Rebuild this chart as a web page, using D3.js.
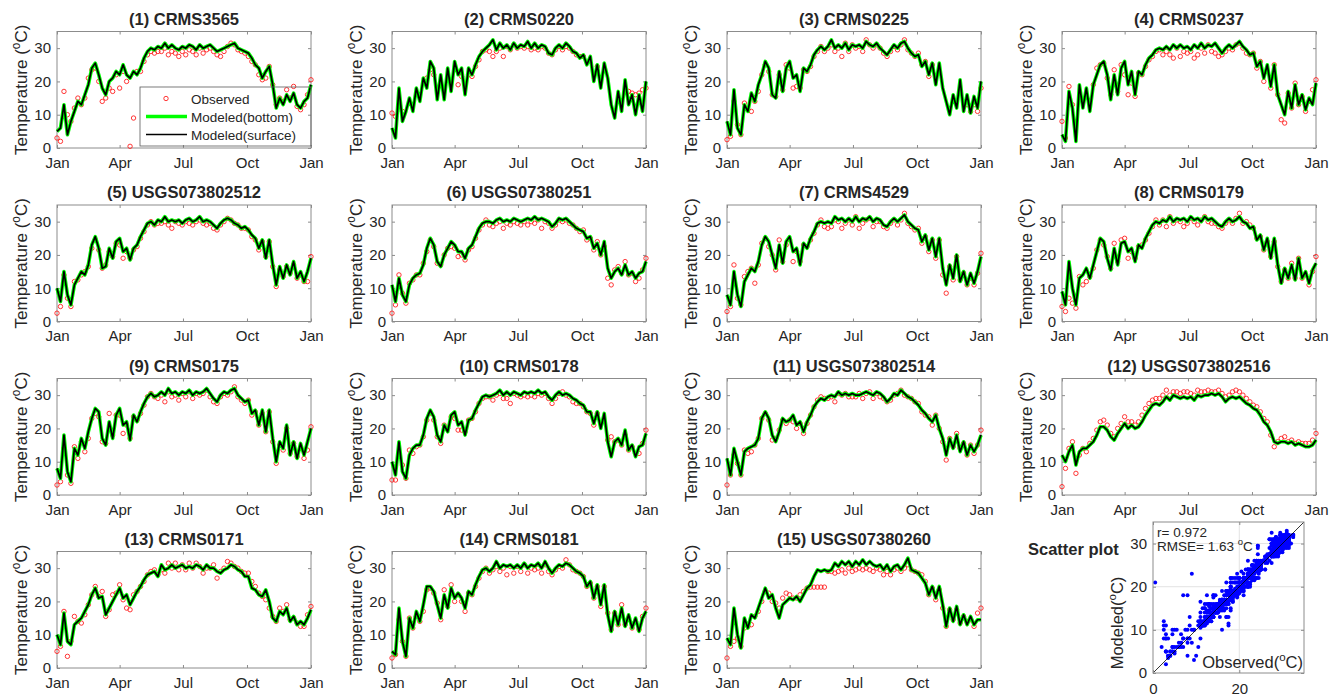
<!DOCTYPE html>
<html>
<head>
<meta charset="utf-8">
<script src="https://cdn.jsdelivr.net/npm/d3@7"></script>
<style>
  body { margin: 0; background: #fff; }
  svg { display: block; }
  text { font-family: "Liberation Sans", Arial, Helvetica, sans-serif; fill: #262626; }
</style>
</head>
<body>
<svg id="fig" width="1336" height="694"></svg>
<script>
// ---- Sampling grid: day of year, every 5 days ----
const dayOfYear = d3.range(0, 366, 5);

const stationNames = [
  "(1) CRMS3565", "(2) CRMS0220", "(3) CRMS0225", "(4) CRMS0237",
  "(5) USGS073802512", "(6) USGS07380251", "(7) CRMS4529", "(8) CRMS0179",
  "(9) CRMS0175", "(10) CRMS0178", "(11) USGS073802514", "(12) USGS073802516",
  "(13) CRMS0171", "(14) CRMS0181", "(15) USGS07380260"
];

const monthTicks = ["Jan", "Apr", "Jul", "Oct", "Jan"];
const tempTicks = [0, 10, 20, 30];
const scatterXTicks = [0, 20];
const scatterYTicks = [0, 10, 20, 30];
const scatterStats = { r: "0.972", rmse: "1.63" };

// ---- Modeled water temperature (°C); bottom and surface layers coincide at this scale ----
const mod01 = [5,6,13,4,8,11,14,13,16,19, 24,25.5,22,18,16,20,21,23,22,25, 22,21,23,22,24,27,29,30,29.5,30.5,
  30,31.5,30,31,30,29.5,30.5,30,31,30.5, 29.5,31,30,30.5,31,30,29,29.5,30,30.5, 31,31.5,30,29.5,29,28.5,27,25,24,21,
  23,24.5,19,12,15,13,16,14,16.5,13, 12,14,15,19];
const mod02 = [6,3,18,8,11,15,11,18,14,21, 18,26,24,14.5,22,14.5,24,17,26,22, 24,16,24,22,25,27.5,29,30,31,32.5,
  29.5,31.5,30,31,29.5,31.5,30,31,30.5,32, 30,31.5,30,31,30.5,28.5,28,30,31,30, 31.5,30.5,29,28.5,27,28,25,27.5,20,25,
  18,25.5,21,13,9,17,11,20.5,13,16, 10,16,11,20];
const mod03 = [8,4,17.5,6,4,13,11,16.5,14,19, 22,26,24,16,15,23,17,24,26,21, 22,17,24,23,25,28,29.5,30.5,29.5,30.5,
  32.5,30,31,30,31.5,29.5,31,30.5,31,30, 32,31,30.5,31.5,30,29,28,29.5,31,30, 31.5,32,30,28.5,27.5,28,24.5,26,22,25.5,
  19,25.5,18,14,10,16,12,20.5,11,16, 10.5,15.5,12,20];
const mod04 = [4,2,17,12,2,19,12,18,11,19, 22,25,26,22,14.5,22,16,24,26,19, 23,16,23,22,25,27,28,29.5,30,29.5,
  30.5,29.5,31,30,31,30,30.5,29.5,31,30, 31.5,30,31,30.5,31.5,30,28.5,30,31,30, 31,32,30.5,29.5,28,28.5,24.5,26,21,25,
  18.5,25,16,13,10,17,12,19,13,16, 11.5,15,13,19.5];
const mod05 = [10,6,15,8,5,11,13,15,14,17, 23,25.5,22,16,16.5,22,19,24,25,21, 22,18.5,22,23,25.5,27.5,29.5,30,29,30.5,
  30,31.5,30,30.5,30,30.5,29.5,30.5,31,30, 30.5,31.5,30,30.5,30,29,28,29.5,30.5,31, 30.5,29.5,29,28,28.5,27.5,26,25,22,24.5,
  19,24.5,17,11,16.5,13,17,14,18,13, 15,12,15,19];
const mod06 = [11,6,13,8,6,11,13,14,14.5,17, 22,25,23,18,16.5,20,22,24,23,21, 21,19,22,23,25.5,28,29.5,30,30,29.5,
  30.5,31,30,30.5,30,31,30.5,30,30.5,31, 30.5,31.5,30.5,31,30.5,30,28.5,29.5,31,30.5, 31,30,29,28,27.5,27,25,25.5,22,23.5,
  20,24,16,13,15,16,14,17,14,15, 13,14.5,15,18];
const mod07 = [8,5,15,8,4.5,12,14,16,15,18, 23,25.5,24,20,16,23,17.5,24,25.5,21, 22,17,23.5,22,25,27,29.5,30,29.5,30,
  29.5,31.5,30.5,31,30,31,30,31.5,30,31, 30.5,31.5,30,31,30.5,29,28.5,30,31,30, 31,32,30,29,28,27.5,24,26,21.5,25,
  19.5,25,16,11,17,13,20,12,15,11, 14.5,11.5,15,19.5];
const mod08 = [9,5,18,10,5,13,14,16,13,17, 21,25,24,19,15.5,22,17,23.5,24,21, 22,18,23,22,25,27,29,30,29.5,30.5,
  30,31.5,30,31,30.5,31,30,31.5,30.5,31, 30,31.5,30.5,31,30,29,28.5,30,31,30, 30.5,31.5,30,29.5,28,28.5,24.5,26,21.5,25,
  19,25,17,11.5,16,13,17,12.5,19,13, 15,11.5,15.5,17.5];
const mod09 = [8,5,18,7,4,14,12,17,14,19, 23,26,25,17,15,22,17,24,26,21, 22,16.5,24,22,25,27.5,29.5,30.5,29.5,30,
  31,30,32,30.5,31,30,31,30.5,31.5,30, 31,30.5,31,32,30.5,29,28,30,31,30.5, 31.5,32,30,29,28,28.5,24.5,25.5,21,25.5,
  19,25.5,17,10,16,14,21,12,16,11, 15.5,12,16,20];
const mod10 = [10,6,16,7,5,12,14,15,15,18, 23,25.5,23.5,18,16,21,19,24,25,21, 22,18,22.5,23,25.5,27.5,29.5,30,29.5,30,
  30.5,31.5,30,31,30,31,30.5,30,31,30.5, 31,30.5,31.5,30.5,31,29.5,28.5,30,31,30, 30.5,30,29,28.5,27.5,27,25,25,21.5,25,
  20,24.5,16,11.5,16,17,15,19.5,13.5,15, 11.5,14.5,15,18.5];
const mod11 = [11,6,14,10,6,13,14,14.5,15,17, 23,25,23,18,16,19,23,22,22.5,24, 21,22,19,22,24,26.5,28,29,28.5,29.5,
  30,29.5,31,30,30.5,30,30.5,30,30,30.5, 31,30.5,30,31,30.5,29.5,28,29,30.5,30, 31.5,30.5,29.5,29,28,27,25.5,24.5,23,22,
  24,20,17,12,17,14,18,13,16,12, 15,13,15,18];
const mod12 = [12,10,13,15,9,13,14,14,15,16, 18,20.5,20.5,19.5,17.5,16.5,18.5,20,21.5,20, 21,20,20.5,22,24,25.5,27,27.5,27,28,
  29.5,28.5,30,29.5,29,29.5,29,29.5,28.5,30, 29.5,30,30,30.5,30,30.5,29.5,28,29,29.5, 29,29.5,28.5,27.5,27,26,25.5,24,22,21,
  19,16,15.5,16,16,15.5,16,15,15.5,15, 14.5,14.5,15,16.5];
const mod13 = [10,7,16.5,8,7,13,14,15,17,19, 22,24,21,21.5,16,18,20,22,24,21, 22,19,21,23,24.5,26.5,28,28.5,29,27.5,
  31,29.5,30,31,30,30.5,31,30,30.5,30, 31,30.5,29.5,31,30,30,29,28.5,29.5,30, 31,30.5,29.5,29,27.5,27.5,24,23.5,22,21.5,
  23.5,20,15,14,17,16,18,14,15.5,13, 14,13,15,17.5];
const mod14 = [5,4,18,8,3.5,15,12,17,14,19, 24.5,24.5,23,19,15,22,18,24,21,22.5, 21,18,23,22,25,27.5,29.5,30,29,30,
  32,30,31,30.5,31,30,31,30,31.5,30, 31,30.5,31.5,30,32,30,28.5,30,31,30.5, 31.5,31,30,29,28.5,27.5,24.5,26,21,25,
  19,25,16,11,17,13,18,12.5,16,12, 15,11,15,17];
const mod15 = [9,7,18,10,6,15,12,16,15,18, 21,24,21,22,18,15,19,20,21,20.5, 21.5,20,22,24,25,27.5,29.5,29,29.5,29,
  29.5,31.5,30.5,32,31,32,30.5,32,31,32.5, 31,32,31,30.5,31,29.5,31,29,30.5,31, 29.5,31,33,29.5,29,28.5,27,25.5,22,24.5,
  21,24.5,19,12.5,18,14,18.5,13,16,13, 15.5,13,14.5,14.5];

// ---- Observed water temperature (°C); null where no record ----
const obs01 = [3,2,17,10,8,12,15,13,15,21, 23.5,24,20,14,15,18,17,22,18,23, 20,0.5,9,23,23,26,28,29,28.5,29,
  29,30,28,29,28.5,27.5,29,28,29.5,29, 28,30,28.5,29.5,30,29,28,27.5,29,30.5, 31.5,31,29.5,29,28.5,27.5,26,25,22,20.5,
  21,24.5,19,13,15,14,17.5,15,18.5,12.5, 11.5,13,16,20.5];
const obs02 = [10.5,9.5,12.5,11,null,null,null,null,null,null, 21,23.5,22,null,null,null,null,null,null,19,
  21.5,null,22,21.5,24.5,26.5,29,29.5,29,27.5, 29,30,27.5,30.5,29.5,31,30,30.5,30,30.5,
  29.5,30,29.5,30.5,30,28.5,28,29.5,30.5,29.5, 30.5,30,29,28,27.5,27.5,null,null,null,24.5,
  null,null,null,null,null,null,null,null,17,16.5, 16,16.5,17.5,18];
const obs03 = [2.5,3.5,14,7,4,13.5,11.5,11,14,17, 22,25,23,16,15.5,22,17.5,25,24,18, 18.5,18,23.5,23,24.5,27.5,29,30.5,29,30,
  31,29,30,27.5,31.5,29,31,30,30.5,29, 32.5,31,30,31,30,28.5,27.5,29,30.5,29.5, 31,32.5,29.5,28.5,27.5,28.5,25,26,21.5,25,
  null,null,null,null,null,null,null,null,null,13, 11,13,11,18];
const obs04 = [8,3,18.5,13,null,null,null,null,null,19, 24,25,25.5,21,16,23.5,17,25,22,16, 19.5,15.5,22.5,22,24.5,26.5,27.5,29,29.5,28,
  29,28,27,30,27.5,29,28.5,29,27,28, 30,28.5,31,29,28.5,27.5,28,29,30,29.5, 31,31.5,30,28.5,28,28.5,24,26,20,23,
  18,25,16,8.5,7.5,16.5,12,19.5,13,15.5, 11,14,17.5,20.5];
const obs05 = [2.5,4.5,14,7,4.5,12,12.5,14,15,16.5, 22,24.5,21.5,16,17,21,19.5,23.5,23,19, 21,19,21.5,22.5,25,27,29,30,29,29.5,
  29.5,30,29,28,30,29.5,29,30,29.5,29, 30,30.5,29.5,29,29.5,28,27.5,29,30,31, 30.5,29.5,29,28,28,27.5,25.5,24.5,21.5,24,
  19.5,24,16.5,10.5,15.5,13.5,16.5,14.5,17,13, 14,12,12,19.5];
const obs06 = [2.5,5,14,8.5,5.5,11.5,12.5,14,14,17.5, 21,24.5,22.5,17.5,17,20,22,22.5,22,19.5, 20,18.5,21.5,22.5,25,27.5,29,30.5,29,28.5,
  29.5,30,28,29.5,29,30,29.5,29,30,29, 30,29.5,30.5,28,30,29.5,28,29,30.5,30, 30.5,29.5,29,28,27,27.5,24.5,25,21.5,24,
  20,22.5,13,11,15.5,16.5,14.5,18,14,14.5, 12,13,15.5,19];
const obs07 = [3,4.5,17,7,5,13.5,15,16,11.5,17, 23.5,25,22.5,20,15.5,24.5,18,23,24.5,18, 21,18,23,22.5,24.5,26.5,29,30.5,28.5,28,
  28.5,30.5,30,28,29.5,30.5,29,31.5,28,29.5, 30.5,31,28.5,30,30,28.5,28,29.5,30.5,29, 30.5,32.5,29.5,28.5,27.5,28,23.5,25.5,21,24.5,
  19,24.5,14,8.5,16.5,12.5,19.5,12.5,14.5,11, 13,11,14.5,20.5];
const obs08 = [4.5,3,7,5.5,4,13.5,11,12,13.5,16, 21.5,24.5,23,19.5,16,23.5,18,24.5,25,19, 21,19,22.5,23,24.5,26.5,28.5,30.5,29,30.5,
  28.5,31.5,29.5,30.5,30,28.5,29.5,31,30,29, 30.5,31.5,30,29.5,29.5,28.5,28,29.5,30.5,29.5, 31,32.5,29.5,30,29,28,25,25.5,21.5,24,
  19.5,24,16.5,12,15.5,13,17.5,13,19,13, 14,11,15,19.5];
const obs09 = [3,4,14,6,3.5,14.5,11,16,13,17, 23,24.5,23.5,16,15.5,24.5,18,24,24,18.5, 21,17,23.5,22.5,24.5,27,29.5,30.5,29.5,29,
  30,28,31,29.5,30,28.5,30.5,29.5,31,29, 30.5,30,30.5,31.5,29.5,28,27.5,29.5,30.5,30, 31,32.5,29.5,28.5,27.5,28.5,24,25,21,24.5,
  19,25,16,9.5,15,13.5,20,12.5,15.5,11.5, 14,11,13.5,20.5];
const obs10 = [4.5,4.5,12.5,9,5,13.5,12.5,14.5,15,17.5, 22.5,24.5,22.5,17.5,15.5,21,20,23.5,23,19.5, 19.5,19,22.5,23,25,27.5,29,29.5,29.5,28.5,
  30,30.5,29,29,27.5,30.5,30,29.5,30,29.5, 30,29.5,30.5,30,30.5,29,27.5,29,30.5,31, 30,29.5,28,27.5,27.5,26.5,25,24.5,21,24.5,
  null,null,16.5,17.5,16,16.5,15,18,13.5,14.5, 12.5,12.5,15.5,19.5];
const obs11 = [3,6,12,9.5,6,13.5,12.5,13,15,17, 23,24.5,22.5,16.5,17,19.5,22.5,21.5,22.5,22, 20,21.5,18.5,21.5,24,26.5,28.5,29.5,29,29,
  29.5,28,30.5,30,30.5,29.5,29.5,29.5,30.5,29, 30.5,31,29,30.5,29.5,29,28,28.5,30,30.5, 31.5,30,29.5,29,28,27.5,25,24,23.5,21,
  24,20,16,10.5,17,14.5,18.5,14,15.5,12, 15,12.5,15,19.5];
const obs12 = [2.5,8,14,16,6.5,12,14,13,15.5,17, 19.5,22,22.5,21,18.5,17.5,20,21.5,23.5,22, 22,21,22,24,26,27.5,28.5,29,29,30,
  31.5,30,31,31,30.5,31,31,30.5,30,31.5, 31,31,31.5,31,31,31.5,30.5,29.5,30,31, 31.5,31,30,29,28,27,26.5,25,23,22,
  18,14.5,16,17,17.5,16,16.5,15.5,16,15.5, 15.5,15.5,16.5,18.5];
const obs13 = [5,6.5,17,3.5,8,15.5,14,13.5,16,19, 22,24.5,21.5,23,15.5,17.5,22,22.5,25,20.5, 18,17.5,22,23,24.5,26,28,29,29.5,28,
  29.5,28.5,31.5,30,31.5,29.5,31,29.5,31.5,30, 31.5,30.5,28.5,30,30,31,27,29,30,32, 31.5,30.5,30,29,28.5,28.5,26,24.5,22.5,21.5,
  20.5,18,15.5,14,18,17,19,14.5,15,13.5, 12.5,12.5,16,18.5];
const obs14 = [3,4,14.5,8,3.5,15,12,15.5,14,17, 23.5,24,22.5,19.5,14.5,23.5,18.5,25,20,22, 20,17,22.5,22,24.5,27,29,30,28.5,29.5,
  30.5,29,30,28,30.5,28.5,30.5,29,31,28.5, 30,29.5,30,28.5,31,29,28,29.5,30.5,30, 32.5,31,29.5,29,28.5,27.5,24.5,25.5,21,24.5,
  18.5,24.5,16.5,11.5,16.5,13,19,13,15,12, 14,11.5,15.5,18];
const obs15 = [3,6.5,8,9,6.5,12,12.5,13,15.5,17, 20,23,22.5,20,19.5,18,21,22.5,22,21, 21,22,23,24,24.3,24.3,24.3,24.3,24.3,29,
  29,28.5,29,29.5,28.5,30,29,29.5,30,29.5, 30,29.5,29,30,29.5,28,29,28,29.5,30, 29,30,31,29.5,29,28.5,28,26,22,24,
  20.5,23.5,18,12.5,17.5,14.5,17.5,13.5,15.5,14, 14.5,12.5,16.5,18];

const modeledSeries = [mod01, mod02, mod03, mod04, mod05, mod06, mod07, mod08,
                       mod09, mod10, mod11, mod12, mod13, mod14, mod15];
const observedSeries = [obs01, obs02, obs03, obs04, obs05, obs06, obs07, obs08,
                        obs09, obs10, obs11, obs12, obs13, obs14, obs15];

// ---- Layout ----
const colLeft = [57, 392, 727, 1062];
const rowZero = [148, 321.5, 495, 668];
const plotW = 254, plotH = 116.5;
const boxColor = "#8c8c8c";
const obsColor = "#ff2020";
const bottomColor = "#00ff00";

const fig = d3.select("#fig");
const yearStart = new Date(Date.UTC(2015, 0, 1));
const yearEnd = new Date(Date.UTC(2016, 0, 1));
const dateOf = d => new Date(Date.UTC(2015, 0, 1 + d));
const quarterStarts = d3.utcMonth.every(3).range(yearStart, d3.utcDay.offset(yearEnd, 1));

function styleAxis(sel, fontSize) {
  sel.select(".domain").remove();
  sel.selectAll(".tick line").attr("stroke", boxColor);
  sel.selectAll(".tick text")
    .attr("fill", "#262626")
    .style("font-family", '"Liberation Sans", Arial, sans-serif')
    .style("font-size", fontSize + "px");
}

function supLabel(sel, before, after, fontSize) {
  sel.append("tspan").text(before);
  sel.append("tspan").text("o").style("font-size", (fontSize * 0.7) + "px").attr("dy", -fontSize * 0.42);
  sel.append("tspan").text(after).attr("dy", fontSize * 0.42);
}

stationNames.forEach((name, k) => {
  const col = k % 4, row = Math.floor(k / 4);
  const left = colLeft[col], bottom = rowZero[row], top = bottom - plotH;
  const x = d3.scaleUtc().domain([yearStart, yearEnd]).range([left, left + plotW]);
  const y = d3.scaleLinear().domain([0, 35]).range([bottom, top]);
  const g = fig.append("g").attr("class", "panel");

  g.append("rect").attr("x", left).attr("y", top).attr("width", plotW).attr("height", plotH)
    .attr("fill", "#fff").attr("stroke", boxColor).attr("stroke-width", 1);

  // axes with inward ticks, mirrored on top and right
  const xAxis = d3.axisBottom(x).tickValues(quarterStarts)
    .tickFormat((d, i) => monthTicks[i]).tickSizeInner(-3).tickSizeOuter(0).tickPadding(9);
  g.append("g").attr("transform", `translate(0,${bottom})`).call(xAxis).call(s => styleAxis(s, 15));
  g.append("g").attr("transform", `translate(0,${top})`)
    .call(d3.axisTop(x).tickValues(quarterStarts).tickFormat("").tickSizeInner(-3).tickSizeOuter(0))
    .call(s => styleAxis(s, 15));
  const yAxis = d3.axisLeft(y).tickValues(tempTicks).tickSizeInner(-3).tickSizeOuter(0).tickPadding(6);
  g.append("g").attr("transform", `translate(${left},0)`).call(yAxis).call(s => styleAxis(s, 15));
  g.append("g").attr("transform", `translate(${left + plotW},0)`)
    .call(d3.axisRight(y).tickValues(tempTicks).tickFormat("").tickSizeInner(-3).tickSizeOuter(0))
    .call(s => styleAxis(s, 15));

  const mod = modeledSeries[k];
  const obs = observedSeries[k];

  // observed points
  g.append("g").selectAll("circle")
    .data(obs.map((v, i) => ({ d: dayOfYear[i], v })).filter(p => p.v != null))
    .join("circle")
    .attr("cx", p => x(dateOf(p.d))).attr("cy", p => y(p.v)).attr("r", 2.2)
    .attr("fill", "none").attr("stroke", obsColor).attr("stroke-width", 0.9);

  const line = d3.line().x((v, i) => x(dateOf(dayOfYear[i]))).y(v => y(v));
  // bottom layer (wide green) under the surface layer (thin black)
  g.append("path").attr("d", line(mod)).attr("fill", "none")
    .attr("stroke", bottomColor).attr("stroke-width", 3.6).attr("stroke-linejoin", "round");
  g.append("path").attr("d", line(mod)).attr("fill", "none")
    .attr("stroke", "#000").attr("stroke-width", 1.7).attr("stroke-linejoin", "round");

  g.append("text").attr("x", left + plotW / 2).attr("y", top - 7)
    .attr("text-anchor", "middle").style("font-size", "16.5px").style("font-weight", "bold").text(name);

  const yl = g.append("text")
    .attr("transform", `translate(${left - 30},${(top + bottom) / 2}) rotate(-90)`)
    .attr("text-anchor", "middle").style("font-size", "17px");
  supLabel(yl, "Temperature (", "C)", 17);
});

// ---- Legend (panel 1), transparent so the series show through ----
const lg = fig.append("g");
lg.append("rect").attr("x", 140).attr("y", 87).attr("width", 171).attr("height", 59)
  .attr("fill", "none").attr("stroke", "#5a5a5a").attr("stroke-width", 0.8);
lg.append("circle").attr("cx", 166).attr("cy", 98.5).attr("r", 2.2)
  .attr("fill", "none").attr("stroke", obsColor).attr("stroke-width", 0.9);
lg.append("line").attr("x1", 146).attr("x2", 187).attr("y1", 116.5).attr("y2", 116.5)
  .attr("stroke", bottomColor).attr("stroke-width", 3.6);
lg.append("line").attr("x1", 146).attr("x2", 187).attr("y1", 134.5).attr("y2", 134.5)
  .attr("stroke", "#000").attr("stroke-width", 1.7);
[["Observed", 103.5], ["Modeled(bottom)", 121.5], ["Modeled(surface)", 139.5]].forEach(([t, yy]) => {
  lg.append("text").attr("x", 191).attr("y", yy).style("font-size", "13.5px").text(t);
});

// ---- Scatter of observed vs modeled, pooled over all stations ----
const scatterPoints = [];
observedSeries.forEach((obs, k) => {
  obs.forEach((v, i) => { if (v != null) scatterPoints.push([v, modeledSeries[k][i]]); });
});

const sL = 1153, sW = 151, sB = 673, sT = 522;
const sx = d3.scaleLinear().domain([0, 35]).range([sL, sL + sW]);
const sy = d3.scaleLinear().domain([0, 35]).range([sB, sT]);
const sg = fig.append("g");
sg.append("rect").attr("x", sL).attr("y", sT).attr("width", sW).attr("height", sB - sT).attr("fill", "#fff");
// grid
sg.append("g").selectAll("line").data(scatterXTicks.filter(v => v > 0)).join("line")
  .attr("x1", d => sx(d)).attr("x2", d => sx(d)).attr("y1", sT).attr("y2", sB)
  .attr("stroke", "#e3e3e3").attr("stroke-width", 1);
sg.append("g").selectAll("line").data(scatterYTicks.filter(v => v > 0)).join("line")
  .attr("x1", sL).attr("x2", sL + sW).attr("y1", d => sy(d)).attr("y2", d => sy(d))
  .attr("stroke", "#e3e3e3").attr("stroke-width", 1);

sg.append("defs").append("clipPath").attr("id", "sclip")
  .append("rect").attr("x", sL).attr("y", sT).attr("width", sW).attr("height", sB - sT);
sg.append("g").attr("clip-path", "url(#sclip)").selectAll("circle").data(scatterPoints).join("circle")
  .attr("cx", d => sx(d[0])).attr("cy", d => sy(d[1])).attr("r", 2).attr("fill", "#0000ff");
// 1:1 reference line
sg.append("line").attr("x1", sx(0)).attr("y1", sy(0)).attr("x2", sx(35)).attr("y2", sy(35))
  .attr("stroke", "#000").attr("stroke-width", 0.8);

sg.append("rect").attr("x", sL).attr("y", sT).attr("width", sW).attr("height", sB - sT)
  .attr("fill", "none").attr("stroke", boxColor).attr("stroke-width", 1);
sg.append("g").attr("transform", `translate(0,${sB})`)
  .call(d3.axisBottom(sx).tickValues(scatterXTicks).tickSizeInner(-3).tickSizeOuter(0).tickPadding(10))
  .call(s => styleAxis(s, 15));
sg.append("g").attr("transform", `translate(${sL},0)`)
  .call(d3.axisLeft(sy).tickValues(scatterYTicks).tickSizeInner(-3).tickSizeOuter(0).tickPadding(6))
  .call(s => styleAxis(s, 15));
sg.append("g").attr("transform", `translate(0,${sT})`)
  .call(d3.axisTop(sx).tickValues(scatterXTicks).tickFormat("").tickSizeInner(-3).tickSizeOuter(0))
  .call(s => styleAxis(s, 15));
sg.append("g").attr("transform", `translate(${sL + sW},0)`)
  .call(d3.axisRight(sy).tickValues(scatterYTicks).tickFormat("").tickSizeInner(-3).tickSizeOuter(0))
  .call(s => styleAxis(s, 15));

sg.append("text").attr("x", 1157).attr("y", 537).style("font-size", "13.5px").text("r= " + scatterStats.r);
const rm = sg.append("text").attr("x", 1157).attr("y", 551).style("font-size", "13.5px");
supLabel(rm, "RMSE= " + scatterStats.rmse + " ", "C", 13.5);

const ox = sg.append("text").attr("x", 1303).attr("y", 668).attr("text-anchor", "end").style("font-size", "16.5px");
supLabel(ox, "Observed(", "C)", 16.5);
const my = sg.append("text").attr("transform", `translate(1123,623) rotate(-90)`)
  .attr("text-anchor", "middle").style("font-size", "16.5px");
supLabel(my, "Modeled(", "C)", 16.5);

sg.append("text").attr("x", 1028).attr("y", 555).style("font-size", "16.5px").style("font-weight", "bold")
  .text("Scatter plot");
</script>
</body>
</html>
